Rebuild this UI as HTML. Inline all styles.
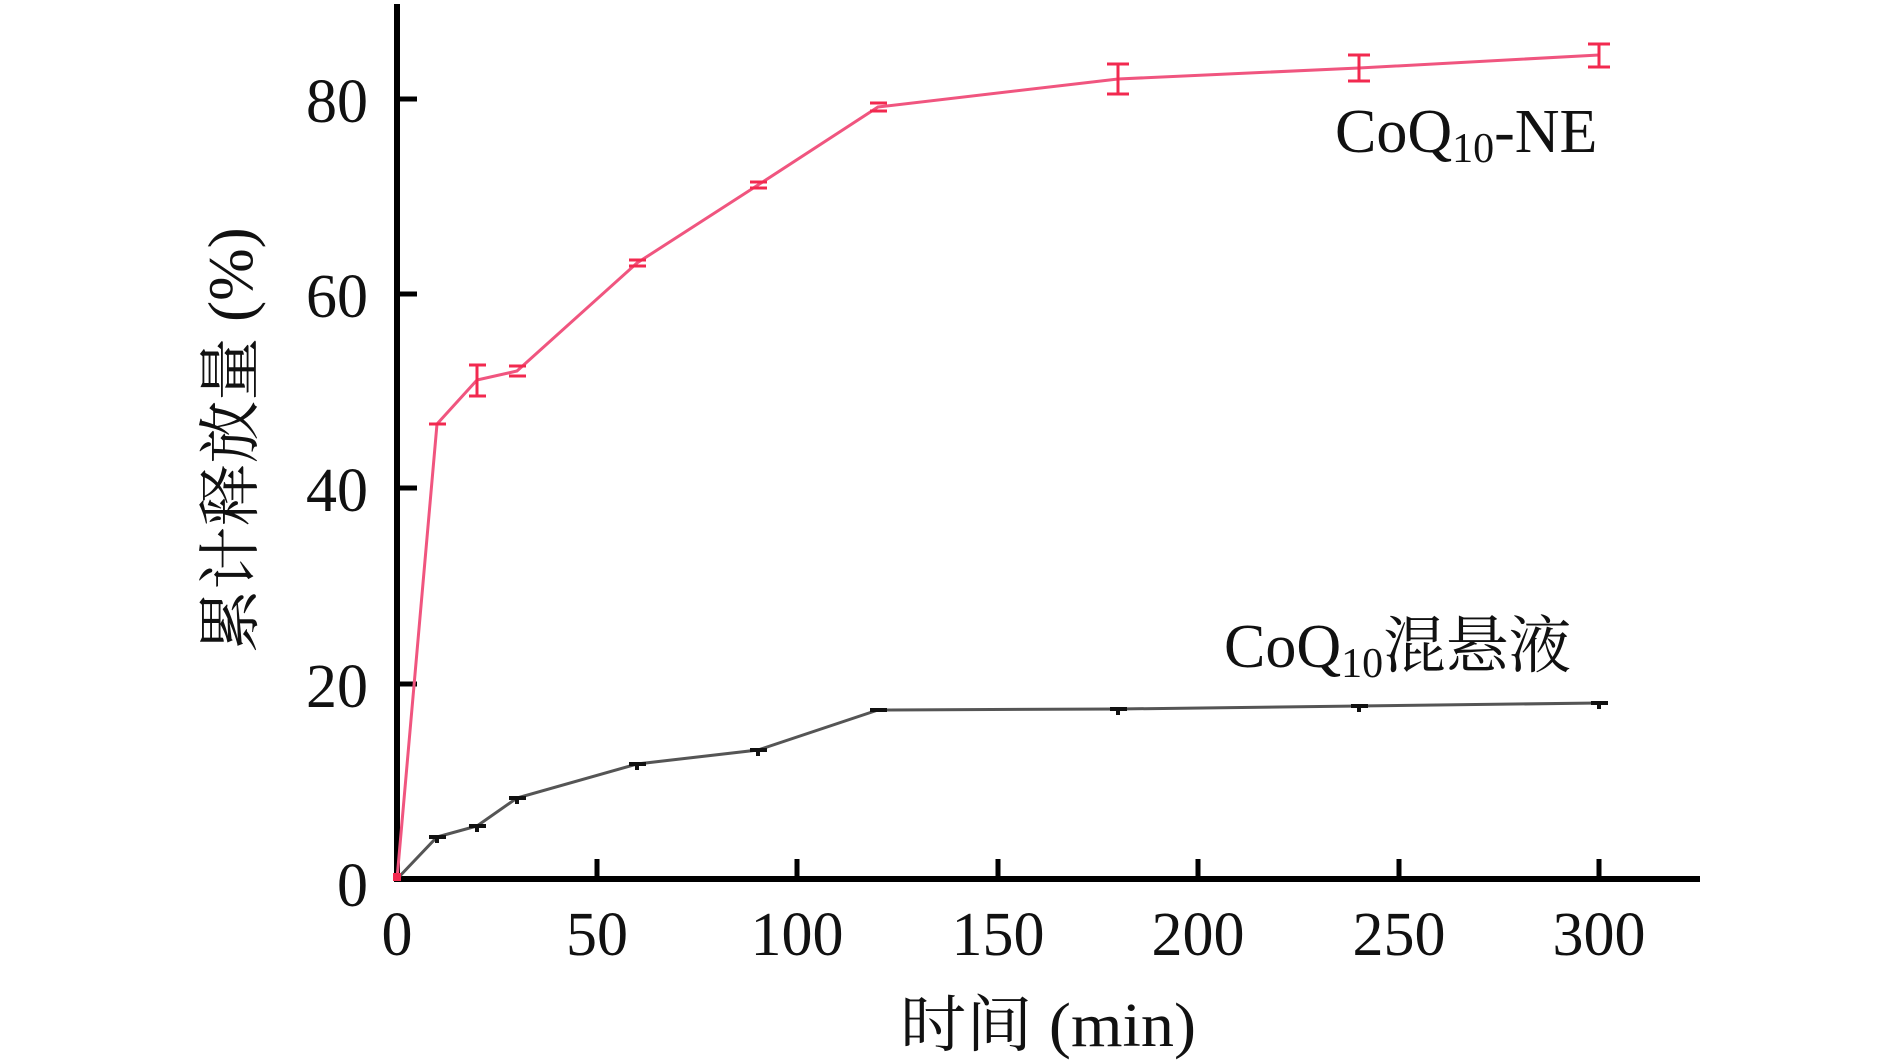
<!DOCTYPE html>
<html><head><meta charset="utf-8"><style>
html,body{margin:0;padding:0;background:#fff}
svg{display:block}
text{font-family:"Liberation Serif","Noto Serif CJK SC",serif;fill:#111}
</style></head><body>
<svg width="1890" height="1064" viewBox="0 0 1890 1064" xmlns="http://www.w3.org/2000/svg">
<line x1="397" y1="4" x2="397" y2="881" stroke="#000" stroke-width="6"/>
<line x1="394" y1="879" x2="1700" y2="879" stroke="#000" stroke-width="6"/>
<g stroke="#000" stroke-width="5">
<line x1="397" y1="99" x2="417" y2="99"/>
<line x1="397" y1="294" x2="417" y2="294"/>
<line x1="397" y1="488" x2="417" y2="488"/>
<line x1="397" y1="684" x2="417" y2="684"/>
</g>
<g stroke="#000" stroke-width="5">
<line x1="597" y1="879" x2="597" y2="859"/>
<line x1="797" y1="879" x2="797" y2="859"/>
<line x1="998" y1="879" x2="998" y2="859"/>
<line x1="1198" y1="879" x2="1198" y2="859"/>
<line x1="1399" y1="879" x2="1399" y2="859"/>
<line x1="1599" y1="879" x2="1599" y2="859"/>
</g>
<g font-size="62" text-anchor="end">
<text x="368" y="122">80</text>
<text x="368" y="317">60</text>
<text x="368" y="511">40</text>
<text x="368" y="707">20</text>
<text x="368" y="906">0</text>
</g>
<g font-size="62" text-anchor="middle">
<text x="397" y="955">0</text>
<text x="597" y="955">50</text>
<text x="797" y="955">100</text>
<text x="998" y="955">150</text>
<text x="1198" y="955">200</text>
<text x="1399" y="955">250</text>
<text x="1599" y="955">300</text>
</g>
<text x="900" y="1046" font-size="62" textLength="296" lengthAdjust="spacingAndGlyphs">时间 (min)</text>
<text transform="translate(252,440) rotate(-90)" font-size="63" text-anchor="middle">累计释放量 (%)</text>
<polyline fill="none" stroke="#555" stroke-width="3" points="397,879 437,837 477,826 517,798 637,764 758,750 878,710 1118,709 1359,706 1599,703"/>
<g stroke="#111" stroke-width="4">
<line x1="429" y1="837" x2="446" y2="837"/><line x1="437" y1="837" x2="437" y2="843"/>
<line x1="469" y1="826" x2="486" y2="826"/><line x1="477" y1="826" x2="477" y2="832"/>
<line x1="509" y1="798" x2="526" y2="798"/><line x1="517" y1="798" x2="517" y2="804"/>
<line x1="629" y1="764" x2="646" y2="764"/><line x1="637" y1="764" x2="637" y2="770"/>
<line x1="750" y1="750" x2="767" y2="750"/><line x1="758" y1="750" x2="758" y2="756"/>
<line x1="870" y1="710" x2="887" y2="710"/>
<line x1="1110" y1="709" x2="1127" y2="709"/><line x1="1118" y1="709" x2="1118" y2="715"/>
<line x1="1351" y1="706" x2="1368" y2="706"/><line x1="1359" y1="706" x2="1359" y2="712"/>
<line x1="1591" y1="703" x2="1608" y2="703"/><line x1="1599" y1="703" x2="1599" y2="709"/>
</g>
<polyline fill="none" stroke="#f0557f" stroke-width="3" points="397,879 437,424 477,380 517,371 637,263 758,185 878,107 1118,79 1359,68 1599,55"/>
<g stroke="#f2294f" stroke-width="3">
<line x1="429" y1="424" x2="446" y2="424"/>
<line x1="469" y1="365" x2="486" y2="365"/><line x1="469" y1="396" x2="486" y2="396"/><line x1="477" y1="365" x2="477" y2="396"/>
<line x1="509" y1="366" x2="526" y2="366"/><line x1="509" y1="376" x2="526" y2="376"/>
<line x1="629" y1="260" x2="646" y2="260"/><line x1="629" y1="266" x2="646" y2="266"/>
<line x1="750" y1="182" x2="767" y2="182"/><line x1="750" y1="188" x2="767" y2="188"/>
<line x1="870" y1="103" x2="887" y2="103"/><line x1="870" y1="111" x2="887" y2="111"/>
<line x1="1107" y1="64" x2="1129" y2="64"/><line x1="1107" y1="94" x2="1129" y2="94"/><line x1="1118" y1="64" x2="1118" y2="94"/>
<line x1="1348" y1="55" x2="1370" y2="55"/><line x1="1348" y1="81" x2="1370" y2="81"/><line x1="1359" y1="55" x2="1359" y2="81"/>
<line x1="1588" y1="44" x2="1610" y2="44"/><line x1="1588" y1="67" x2="1610" y2="67"/><line x1="1599" y1="44" x2="1599" y2="67"/>
</g>
<rect x="393" y="873" width="8" height="8" fill="#f2294f"/>
<text x="1335" y="152" font-size="62">CoQ<tspan font-size="42" dy="10">10</tspan><tspan dy="-10">-NE</tspan></text>
<text x="1224" y="667" font-size="62">CoQ<tspan font-size="42" dy="10">10</tspan><tspan dy="-10" textLength="188" lengthAdjust="spacingAndGlyphs">混悬液</tspan></text>
</svg>
</body></html>
